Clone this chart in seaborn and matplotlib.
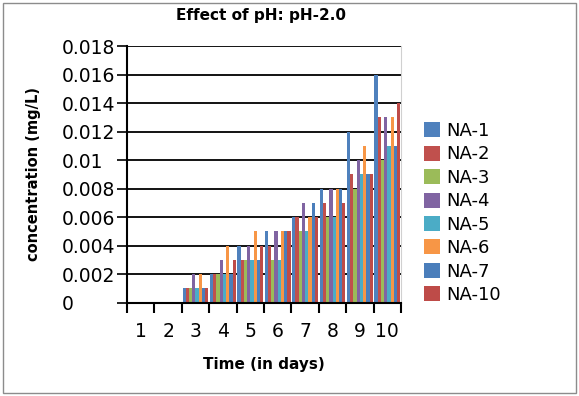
import numpy as np
import pandas as pd
import seaborn as sns
import matplotlib.pyplot as plt
from matplotlib.patches import Rectangle

# data
days = ['1', '2', '3', '4', '5', '6', '7', '8', '9', '10']
series = ['NA-1', 'NA-2', 'NA-3', 'NA-4', 'NA-5', 'NA-6', 'NA-7', 'NA-10']

na1 = [0, 0, 0.001, 0.002, 0.004, 0.005, 0.006, 0.008, 0.012, 0.016]
na2 = [0, 0, 0.001, 0.002, 0.003, 0.004, 0.006, 0.007, 0.009, 0.013]
na3 = [0, 0, 0.001, 0.002, 0.003, 0.003, 0.005, 0.006, 0.008, 0.010]
na4 = [0, 0, 0.002, 0.003, 0.004, 0.005, 0.007, 0.008, 0.010, 0.013]
na5 = [0, 0, 0.001, 0.002, 0.003, 0.003, 0.005, 0.006, 0.009, 0.011]
na6 = [0, 0, 0.002, 0.004, 0.005, 0.005, 0.006, 0.008, 0.011, 0.013]
na7 = [0, 0, 0.001, 0.002, 0.003, 0.005, 0.007, 0.008, 0.009, 0.011]
na10 = [0, 0, 0.001, 0.003, 0.004, 0.005, 0.006, 0.007, 0.009, 0.014]

yticks = [0, 0.002, 0.004, 0.006, 0.008, 0.01, 0.012, 0.014, 0.016, 0.018]
ytick_labels = ['0', '0.002', '0.004', '0.006', '0.008', '0.01', '0.012', '0.014', '0.016', '0.018']

colors = ['#4F81BD', '#C0504D', '#9BBB59', '#8064A2', '#4BACC6', '#F79646', '#4A7EBB', '#BE4B48']

values = [na1, na2, na3, na4, na5, na6, na7, na10]
df = pd.DataFrame({
    'day': days * len(series),
    'series': np.repeat(series, len(days)),
    'conc': np.concatenate(values),
})

sns.set_style('white')
plt.rcParams['font.family'] = ['DejaVu Sans']
plt.rcParams['text.color'] = 'black'
plt.rcParams['axes.labelcolor'] = 'black'
plt.rcParams['xtick.color'] = 'black'
plt.rcParams['ytick.color'] = 'black'

fig = plt.figure(figsize=(5.79, 3.96), dpi=100)
ax = fig.add_axes([0.2193, 0.2356, 0.4733, 0.6482])

sns.barplot(data=df, x='day', y='conc', hue='series', order=days, hue_order=series,
            palette=colors, width=0.94, saturation=1, linewidth=0, ax=ax, legend=True)

ax.set_xlim(-0.5, 9.5)
ax.set_ylim(0, 0.018)
ax.set_yticks(yticks)
ax.set_yticklabels(ytick_labels, fontsize=13.5, ha='left')
ax.tick_params(axis='y', length=7, width=1.2, color='black', pad=40, direction='out', left=True)
ax.yaxis.grid(True, color='black', linewidth=1.3)
ax.set_axisbelow(True)

# ticks between categories, labels at centres
ax.set_xticks(np.arange(-0.5, 10, 1))
ax.set_xticklabels([])
ax.set_xticks(np.arange(10), minor=True)
ax.set_xticklabels(days, minor=True, fontsize=13.5)
ax.tick_params(axis='x', which='major', length=7, width=1.5, color='black', direction='out', bottom=True)
ax.tick_params(axis='x', which='minor', length=0, pad=14)

ax.spines['top'].set_visible(False)
ax.spines['right'].set_color('#d0d0d0')
ax.spines['right'].set_linewidth(0.8)
ax.spines['left'].set_color('black')
ax.spines['left'].set_linewidth(1.5)
ax.spines['bottom'].set_color('black')
ax.spines['bottom'].set_linewidth(1.5)

ax.set_xlabel('Time (in days)', fontsize=11, fontweight='bold')
ax.set_ylabel('concentration (mg/L)', fontsize=10.5, fontweight='bold')
ax.yaxis.set_label_coords(-0.315, 0.5)
ax.xaxis.set_label_coords(0.5, -0.21)
ax.set_title('Effect of pH: pH-2.0', fontsize=11, fontweight='bold', x=0.49, y=1.07)

handles, labels = ax.get_legend_handles_labels()
ax.get_legend().remove()
fig.legend(handles, labels, loc='upper left', bbox_to_anchor=(0.72, 0.71),
           frameon=False, fontsize=13, handlelength=0.9, handleheight=0.9,
           handletextpad=0.3, labelspacing=0.3, borderaxespad=0)

# thin border around the whole chart
fig.patches.append(Rectangle((0.005, 0.007), 0.99, 0.986, transform=fig.transFigure,
                             fill=False, edgecolor='#8c8c8c', linewidth=1))

fig.savefig('out.png', dpi=100)
